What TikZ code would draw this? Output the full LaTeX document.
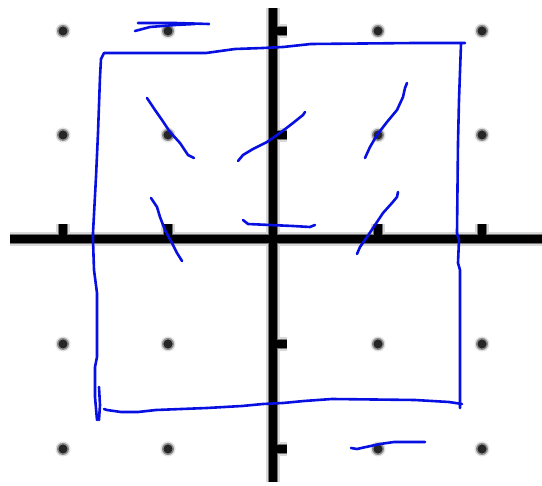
\documentclass[tikz,border=0pt]{standalone}
\usetikzlibrary{calc}
\definecolor{pen}{RGB}{8,16,225}
\tikzset{
  ink/.style={draw=pen, line width=2.6pt, line cap=round, line join=round},
  axhalo/.style={draw=black!15, line width=14pt},
  axmid/.style={draw=black!55, line width=10.5pt},
  axcore/.style={draw=black, line width=7.5pt},
}
\begin{document}
\begin{tikzpicture}[x=1pt,y=-1pt]
\useasboundingbox (0,0) rectangle (542,486);
\fill[white] (0,0) rectangle (542,486);
% grid dots
\foreach \x in {63,168,378,482}{
  \foreach \y in {31,135,344,449}{
    \fill[black!12] (\x,\y) circle (7.5);
    \fill[black!45] (\x,\y) circle (6);
    \fill[black!85] (\x,\y) circle (4.5);
  }
}
% axes with ticks (blurred look)
\foreach \s in {axhalo,axmid,axcore}{
  \draw[\s] (10,239) -- (542,239);
  \draw[\s] (273,8) -- (273,482);
  \foreach \y in {31,135,344,449}{\draw[\s] (273,\y) -- (287,\y);}
  \foreach \x in {63,168,378,482}{\draw[\s] (\x,239) -- (\x,224);}
}
% hand drawn square
\draw[ink] (97,420) -- (95,397) -- (95,367) -- (97,357) -- (97,293) -- (94,270) -- (93,240) -- (93,233) -- (96,177) -- (98,133) -- (100,77) -- (101,59) -- (104,53) -- (206,53) -- (235,49) -- (263,48) -- (283,47) -- (311,44) -- (415,43) -- (465,43);
\draw[ink] (461,44) -- (459,100) -- (458,143) -- (457,233) -- (459,240) -- (458,263) -- (460,270) -- (460,408);
\draw[ink] (462,404) -- (449,402) -- (415,400) -- (332,399) -- (304,401) -- (283,403) -- (263,404) -- (242,406) -- (207,408) -- (156,410) -- (138,412) -- (121,412) -- (107,410) -- (104,409);
\draw[ink] (99,387) -- (100,405) -- (99,420);
% top and bottom strokes
\draw[ink] (138,23) -- (175,23) -- (209,24);
\draw[ink] (135,31) -- (150,27) -- (175,25) -- (195,24);
\draw[ink] (351,448) -- (357,449) -- (366,447) -- (380,444) -- (394,442) -- (425,442);
% arrows of the field
\draw[ink] (147,98) -- (155,110) -- (162,120) -- (170,132) -- (180,143) -- (188,155) -- (194,158);
\draw[ink] (238,161) -- (243,155) -- (253,149) -- (267,142) -- (280,133) -- (293,123) -- (303,115) -- (305,112);
\draw[ink] (365,158) -- (370,147) -- (377,135) -- (387,122) -- (397,110) -- (403,97) -- (405,88) -- (407,83);
\draw[ink] (151,198) -- (157,207) -- (160,217) -- (165,230) -- (172,243) -- (177,253) -- (182,261);
\draw[ink] (243,220) -- (248,224) -- (270,225) -- (293,226) -- (310,227) -- (315,225);
\draw[ink] (357,254) -- (360,247) -- (367,237) -- (375,225) -- (383,213) -- (392,203) -- (397,197) -- (398,192);
\end{tikzpicture}
\end{document}
